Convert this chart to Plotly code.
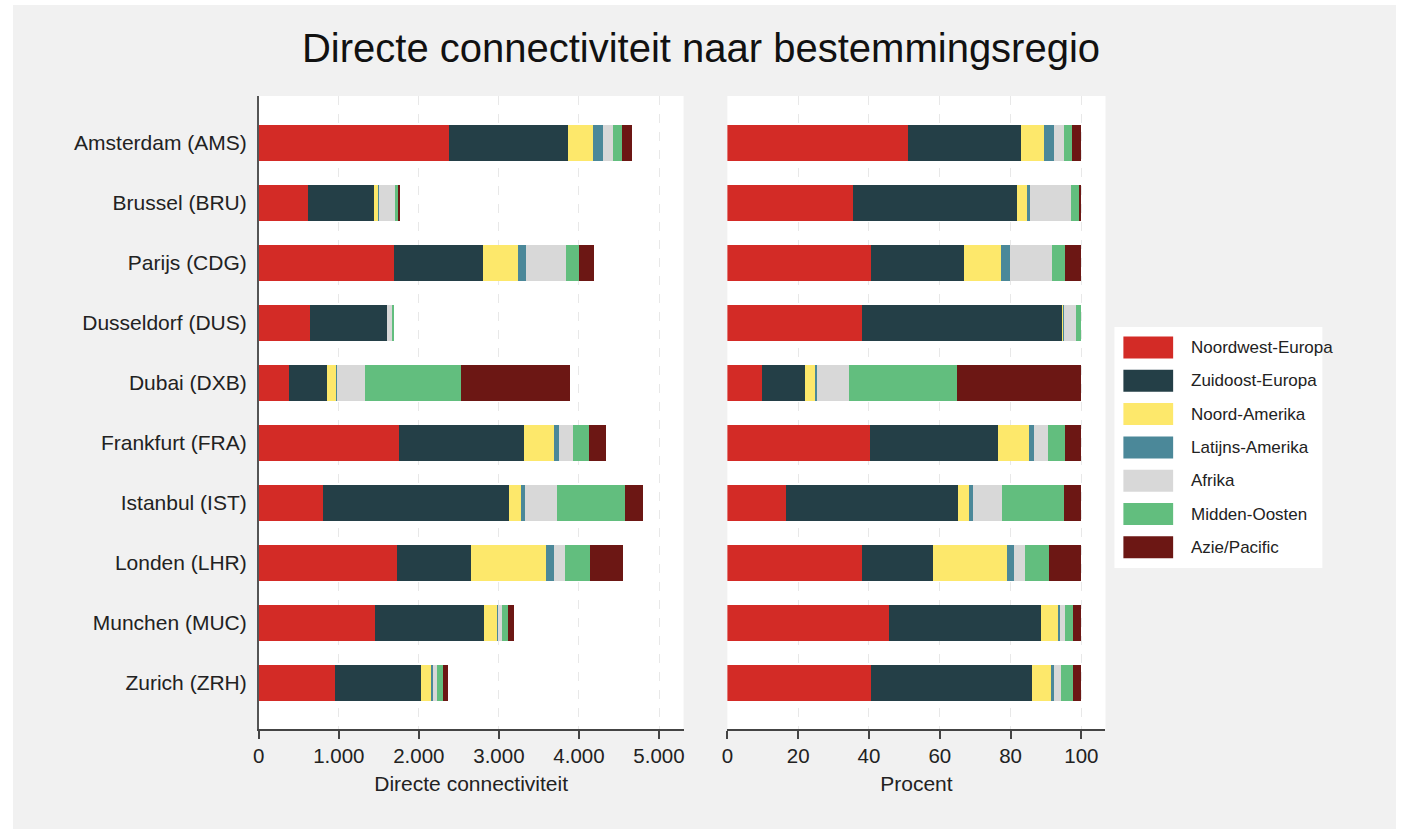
import plotly.graph_objects as go
from plotly.subplots import make_subplots

airports = ["Amsterdam (AMS)", "Brussel (BRU)", "Parijs (CDG)", "Dusseldorf (DUS)", "Dubai (DXB)",
            "Frankfurt (FRA)", "Istanbul (IST)", "Londen (LHR)", "Munchen (MUC)", "Zurich (ZRH)"]

regions = ["Noordwest-Europa", "Zuidoost-Europa", "Noord-Amerika", "Latijns-Amerika",
           "Afrika", "Midden-Oosten", "Azie/Pacific"]

noordwest_europa = [2376, 621, 1695, 640, 381, 1750, 800, 1729, 1451, 958]
zuidoost_europa = [1492, 817, 1108, 960, 477, 1558, 2330, 920, 1368, 1073]
noord_amerika = [303, 53, 435, 3, 112, 378, 145, 942, 162, 129]
latijns_amerika = [125, 9, 104, 2, 13, 62, 50, 91, 10, 20]
afrika = [132, 202, 498, 55, 348, 182, 403, 145, 48, 50]
midden_oosten = [108, 44, 157, 28, 1190, 199, 841, 311, 70, 75]
azie_pacific = [124, 9, 191, 0, 1368, 204, 232, 414, 75, 58]

series = [noordwest_europa, zuidoost_europa, noord_amerika, latijns_amerika,
          afrika, midden_oosten, azie_pacific]
colors = ["#d32b26", "#243f47", "#fde86b", "#4b8899", "#d8d8d8", "#62be7e", "#6c1714"]

totals = [sum(v) for v in zip(*series)]

W, H = 1402, 834
FONT = "Liberation Sans, Arial, sans-serif"


def px_x(p):
    return p / W


def px_y(p):
    return 1 - p / H


fig = make_subplots(rows=1, cols=2)

for name, vals, col in zip(regions, series, colors):
    fig.add_trace(go.Bar(y=airports, x=vals, orientation="h", name=name,
                         marker=dict(color=col, line=dict(width=0)),
                         showlegend=False), row=1, col=1)
    pct = [v / t * 100 for v, t in zip(vals, totals)]
    fig.add_trace(go.Bar(y=airports, x=pct, orientation="h", name=name,
                         marker=dict(color=col, line=dict(width=0)),
                         showlegend=False), row=1, col=2)

# background panel and white plot areas
shapes = [
    dict(type="rect", xref="paper", yref="paper", x0=px_x(7), x1=px_x(1397),
         y0=px_y(829), y1=px_y(5), fillcolor="#f1f1f1", line=dict(width=0), layer="below"),
    dict(type="rect", xref="x domain", yref="y domain", x0=0, x1=1, y0=0, y1=1,
         fillcolor="white", line=dict(width=0), layer="below"),
    dict(type="rect", xref="x2 domain", yref="y2 domain", x0=0, x1=1, y0=0, y1=1,
         fillcolor="white", line=dict(width=0), layer="below"),
]

# legend drawn by hand to get the wide swatches
annotations = []
lx0, lx1, ly0, ly1 = 1114, 1323, 327, 568
shapes.append(dict(type="rect", xref="paper", yref="paper", x0=px_x(lx0), x1=px_x(lx1),
                   y0=px_y(ly1), y1=px_y(ly0), fillcolor="white", line=dict(width=0)))
for i, (name, col) in enumerate(zip(regions, colors)):
    cy = 347.5 + i * 33.3
    shapes.append(dict(type="rect", xref="paper", yref="paper", x0=px_x(1123), x1=px_x(1173),
                       y0=px_y(cy + 11), y1=px_y(cy - 11), fillcolor=col, line=dict(width=0)))
    annotations.append(dict(text=name, xref="paper", yref="paper", x=px_x(1189), y=px_y(cy),
                            xanchor="left", yanchor="middle", showarrow=False,
                            font=dict(family=FONT, size=17, color="#222")))

fig.update_layout(
    width=W, height=H,
    margin=dict(l=0, r=0, t=0, b=0),
    paper_bgcolor="white",
    plot_bgcolor="rgba(0,0,0,0)",
    barmode="stack",
    bargap=0.4,
    separators=",.",
    showlegend=False,
    font=dict(family=FONT, size=21, color="#222"),
    title=dict(text="Directe connectiviteit naar bestemmingsregio", x=0.5, xanchor="center",
               y=px_y(48), yanchor="middle", font=dict(family=FONT, size=40, color="#111")),
    shapes=shapes,
    annotations=annotations,
)

fig.update_xaxes(domain=[px_x(254), px_x(681)], range=[0, 5307],
                 tickvals=[0, 1000, 2000, 3000, 4000, 5000], tickformat=",d",
                 showgrid=True, gridcolor="#e8e8e8", griddash="dash", gridwidth=1,
                 showline=True, linecolor="#444", linewidth=1.5,
                 ticks="outside", ticklen=8, tickcolor="#444", tickwidth=1.5,
                 zeroline=False, tickfont=dict(size=20.5),
                 title=dict(text="Directe connectiviteit", standoff=10,
                            font=dict(family=FONT, size=21, color="#222")),
                 row=1, col=1)
fig.update_xaxes(domain=[px_x(725), px_x(1105)], range=[0, 106.8],
                 tickvals=[0, 20, 40, 60, 80, 100],
                 showgrid=True, gridcolor="#e8e8e8", griddash="dash", gridwidth=1,
                 showline=True, linecolor="#444", linewidth=1.5,
                 ticks="outside", ticklen=8, tickcolor="#444", tickwidth=1.5,
                 zeroline=False, tickfont=dict(size=20.5),
                 title=dict(text="Procent", standoff=10,
                            font=dict(family=FONT, size=21, color="#222")),
                 row=1, col=2)

fig.update_yaxes(domain=[px_y(729), px_y(96)], categoryorder="array", categoryarray=airports,
                 range=[9.775, -0.775], showgrid=False, zeroline=False)
fig.update_yaxes(showline=True, linecolor="#555", linewidth=1.5, ticks="",
                 ticklabelstandoff=6, tickfont=dict(size=21), row=1, col=1)
fig.update_yaxes(showline=False, showticklabels=False, row=1, col=2)

fig.write_html("out.html", config={"displayModeBar": False},
               post_script="document.body.style.margin='0';document.body.style.overflow='hidden';")
